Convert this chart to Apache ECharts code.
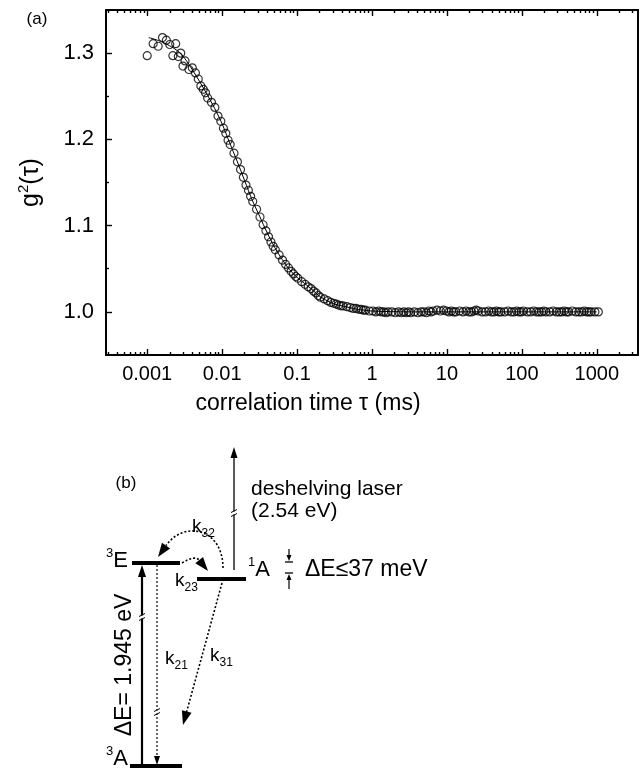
<!DOCTYPE html>
<html>
<head>
<meta charset="utf-8">
<script src="https://cdn.jsdelivr.net/npm/echarts@6/dist/echarts.min.js"></script>
<style>
  html, body { margin: 0; padding: 0; background: #fff; }
  #chart { width: 642px; height: 770px; }
</style>
</head>
<body>
<div id="chart"></div>
<script>
// ---- (a) intensity autocorrelation g2(tau) ----
const tauMs = [
  0.0010, 0.0012, 0.0014, 0.0016, 0.0018, 0.0020, 0.0022, 0.0024, 0.0026, 0.0028, 0.0030, 0.0032,
  0.0036, 0.0040, 0.0044, 0.0048, 0.0052, 0.0056, 0.0060, 0.0064,
  0.0072, 0.0080, 0.0088, 0.0096, 0.0104, 0.0112, 0.0120, 0.0128,
  0.0144, 0.0160, 0.0176, 0.0192, 0.0208, 0.0224, 0.0240, 0.0256,
  0.0288, 0.0320, 0.0352, 0.0384, 0.0416, 0.0448, 0.0480, 0.0512,
  0.0576, 0.0640, 0.0704, 0.0768, 0.0832, 0.0896, 0.0960, 0.1024,
  0.1152, 0.1280, 0.1408, 0.1536, 0.1664, 0.1792, 0.1920, 0.2048,
  0.2304, 0.2560, 0.2816, 0.3072, 0.3328, 0.3584, 0.3840, 0.4096,
  0.4608, 0.5120, 0.5632, 0.6144, 0.6656, 0.7168, 0.7680, 0.8192,
  0.9216, 1.0240, 1.1264, 1.2288, 1.3312, 1.4336, 1.5360, 1.6384,
  1.8432, 2.0480, 2.2528, 2.4576, 2.6624, 2.8672, 3.0720, 3.2768,
  3.6864, 4.0960, 4.5056, 4.9152, 5.3248, 5.7344, 6.1440, 6.5536,
  7.3728, 8.1920, 9.0112, 9.8304, 10.6496, 11.4688, 12.288, 13.1072,
  14.7456, 16.384, 18.0224, 19.6608, 21.2992, 22.9376, 24.576, 26.2144,
  29.49, 32.77, 36.04, 39.32, 42.60, 45.88, 49.15, 52.43,
  58.98, 65.54, 72.09, 78.64, 85.20, 91.75, 98.30, 104.86,
  117.96, 131.07, 144.18, 157.29, 170.39, 183.50, 196.61, 209.72,
  235.93, 262.14, 288.36, 314.57, 340.79, 367.00, 393.22, 419.43,
  471.86, 524.29, 576.72, 629.15, 681.57, 734.00, 786.43, 838.86,
  943.72, 1048.58
];
const g2 = [
  1.297, 1.311, 1.308, 1.318, 1.315, 1.310, 1.297, 1.311, 1.296, 1.300, 1.285, 1.291,
  1.281, 1.283, 1.277, 1.270, 1.262, 1.258, 1.254, 1.248,
  1.243, 1.237, 1.227, 1.221, 1.213, 1.207, 1.199, 1.194,
  1.184, 1.174, 1.165, 1.156, 1.147, 1.141, 1.134, 1.128,
  1.119, 1.110, 1.101, 1.094, 1.087, 1.081, 1.076, 1.072,
  1.066, 1.060, 1.055, 1.051, 1.047, 1.044, 1.041, 1.039,
  1.035, 1.032, 1.029, 1.027, 1.024, 1.022, 1.019, 1.017,
  1.015, 1.013, 1.011, 1.010, 1.009, 1.008, 1.007, 1.007,
  1.006, 1.005, 1.004, 1.004, 1.003, 1.003, 1.002, 1.002,
  1.001, 1.001, 1.000, 1.001, 1.000, 1.000, 0.999, 1.000,
  1.000, 0.999, 1.000, 0.999, 1.000, 0.999, 1.000, 0.999,
  1.000, 0.999, 1.000, 1.000, 0.999, 1.001, 1.000, 1.001,
  1.002, 1.001, 1.002, 1.001, 1.000, 1.001, 1.000, 1.000,
  1.001, 1.000, 1.001, 1.000, 1.000, 1.001, 1.002, 1.001,
  1.000, 1.000, 1.001, 1.000, 1.000, 1.001, 1.000, 1.000,
  1.000, 1.001, 1.000, 1.000, 1.001, 1.000, 1.000, 1.001,
  1.000, 1.000, 1.001, 1.000, 1.000, 1.000, 1.001, 1.000,
  1.000, 1.001, 1.000, 1.000, 1.000, 1.001, 1.000, 1.000,
  1.001, 1.000, 1.000, 1.000, 1.001, 1.000, 1.000, 1.000,
  1.000, 1.000
];
// fitted decay curve
const fitTauMs = [0.00105, 0.00158, 0.00251, 0.00316, 0.00398, 0.00501, 0.00631, 0.00794, 0.0100,
  0.0126, 0.0158, 0.0200, 0.0251, 0.0316, 0.0398, 0.0501, 0.0631, 0.0794, 0.100,
  0.126, 0.158, 0.200, 0.251, 0.316, 0.398, 0.501, 0.631, 0.794, 1.0, 3.16, 10, 100, 1000];
const fitG2 = [1.318, 1.313, 1.303, 1.294, 1.281, 1.267, 1.252, 1.236, 1.218,
  1.196, 1.175, 1.152, 1.130, 1.111, 1.092, 1.075, 1.061, 1.049, 1.040,
  1.033, 1.026, 1.018, 1.013, 1.009, 1.007, 1.005, 1.003, 1.002, 1.001, 1.000, 1.000, 1.000, 1.000];

const xMajorExp = [-3, -2, -1, 0, 1, 2, 3];
const xTickLabels = ['0.001', '0.01', '0.1', '1', '10', '100', '1000'];
const yMajorTicks = [1.0, 1.1, 1.2, 1.3];
const yMinorTicks = [1.05, 1.15, 1.25];
const xTitle = 'correlation time \u03c4 (ms)';
const yTitle = 'g{sup|2}(\u03c4)';

// ---- (b) level scheme, in diagram units ----
const levels = [
  { name: '3E', x0: 32, x1: 80, y: 207 },
  { name: '1A', x0: 97, x1: 146, y: 191 },
  { name: '3A', x0: 30, x1: 82, y: 4 }
];
const gapBars = [
  { x0: 185, x1: 193, y: 208 },
  { x0: 185, x1: 193, y: 197 }
];
const arrows = [
  { kind: 'pump',  path: [[42, 5], [42, 205]] },
  { kind: 'laser', path: [[134, 200], [134, 323]] },
  { kind: 'thin',  path: [[57, 205], [57, 5]] },
  { kind: 'decay', path: [[122, 187], [83, 45]] },
  { kind: 'decay', path: [[123, 202], [123, 242], [84, 250], [58, 213]] },
  { kind: 'decay', path: [[82, 207], [95, 215], [108, 199]] },
  { kind: 'tiny',  path: [[189, 221], [189, 209]] },
  { kind: 'tiny',  path: [[189, 181], [189, 196]] }
];
const breaks = [[134, 257], [42, 153], [57, 58]];
const labels = [
  { kind: 'level', text: '{sup|3}E', x: 28, y: 209, align: 'right' },
  { kind: 'level', text: '{sup|1}A', x: 148, y: 200, align: 'left' },
  { kind: 'level', text: '{sup|3}A', x: 28, y: 11, align: 'right' },
  { kind: 'rate', text: 'k{sub|32}', x: 92, y: 243, align: 'left' },
  { kind: 'rate', text: 'k{sub|23}', x: 75, y: 189, align: 'left' },
  { kind: 'rate', text: 'k{sub|21}', x: 65, y: 111, align: 'left' },
  { kind: 'rate', text: 'k{sub|31}', x: 110, y: 114, align: 'left' },
  { kind: 'note', text: 'deshelving laser', x: 151, y: 281, align: 'left' },
  { kind: 'note', text: '(2.54 eV)', x: 151, y: 259, align: 'left' },
  { kind: 'big', text: '\u0394E\u226437 meV', x: 205, y: 200, align: 'left' },
  { kind: 'big', text: '\u0394E= 1.945 eV', x: 25, y: 105, align: 'center', rotate: 90 },
  { kind: 'panel', text: '(b)', x: 26, y: 287, align: 'center' }
];

// ---- styles ----
const FONT = '"Liberation Sans", Arial, Helvetica, sans-serif';
const arrowStyles = {
  pump:  { width: 2.2, dash: null,   headLen: 12, headW: 8 },
  laser: { width: 1.3, dash: null,   headLen: 11, headW: 7 },
  thin:  { width: 1.2, dash: [2, 2], headLen: 9,  headW: 6 },
  decay: { width: 1.6, dash: [2, 2], headLen: 14, headW: 10 },
  tiny:  { width: 1.2, dash: null,   headLen: 6,  headW: 5 }
};
const labelStyles = {
  level: { size: 22, sup: 13 },
  rate:  { size: 19, sub: 12 },
  note:  { size: 21 },
  big:   { size: 23 },
  panel: { size: 17 }
};

const xMinor = [];
for (let d = -4; d <= 3; d++) {
  for (let m = 2; m <= 9; m++) {
    const v = d + Math.log10(m);
    if (v > -3.55 && v < 3.55) xMinor.push(v);
  }
}

const frameLine = { show: true, onZero: false, lineStyle: { color: '#000', width: 2 } };
const hiddenLine = { show: false, onZero: false };
const tickLine = { color: '#000', width: 1.4 };
const xCommon = { type: 'value', gridIndex: 0, min: -3.55, max: 3.55, splitLine: { show: false },
  axisLine: hiddenLine, axisTick: { show: false }, axisLabel: { show: false } };
const yCommon = { type: 'value', gridIndex: 0, min: 0.95, max: 1.35, splitLine: { show: false },
  axisLine: hiddenLine, axisTick: { show: false }, axisLabel: { show: false } };

function arrowRender(params, api) {
  const a = arrows[params.dataIndex];
  const s = arrowStyles[a.kind];
  const p = a.path.map(q => api.coord(q));
  const n = p.length;
  const tip = p[n - 1], prev = p[n - 2];
  const dx = tip[0] - prev[0], dy = tip[1] - prev[1];
  const L = Math.hypot(dx, dy) || 1;
  const ux = dx / L, uy = dy / L;
  const bx = tip[0] - ux * s.headLen, by = tip[1] - uy * s.headLen;
  const px = -uy * s.headW / 2, py = ux * s.headW / 2;
  const stroke = { stroke: '#000', lineWidth: s.width, fill: null, lineDash: s.dash };
  const children = [];
  if (n === 2) {
    children.push({ type: 'line', shape: { x1: p[0][0], y1: p[0][1], x2: bx + ux, y2: by + uy }, style: stroke });
  } else if (n === 3) {
    children.push({ type: 'bezierCurve', shape: { x1: p[0][0], y1: p[0][1], cpx1: p[1][0], cpy1: p[1][1], x2: bx, y2: by }, style: stroke });
  } else {
    children.push({ type: 'bezierCurve', shape: { x1: p[0][0], y1: p[0][1], cpx1: p[1][0], cpy1: p[1][1], cpx2: p[2][0], cpy2: p[2][1], x2: bx, y2: by }, style: stroke });
  }
  children.push({ type: 'polygon', shape: { points: [tip, [bx + px, by + py], [bx - px, by - py]] }, style: { fill: '#000' } });
  return { type: 'group', children };
}

function levelRender(params, api) {
  const l = levels[params.dataIndex];
  const a = api.coord([l.x0, l.y]), b = api.coord([l.x1, l.y]);
  return { type: 'rect', shape: { x: a[0], y: a[1] - 2, width: b[0] - a[0], height: 4 }, style: { fill: '#000' } };
}

function gapRender(params, api) {
  const l = gapBars[params.dataIndex];
  const a = api.coord([l.x0, l.y]), b = api.coord([l.x1, l.y]);
  return { type: 'line', shape: { x1: a[0], y1: a[1], x2: b[0], y2: b[1] }, style: { stroke: '#000', lineWidth: 1.3 } };
}

function breakRender(params, api) {
  const c = api.coord(breaks[params.dataIndex]);
  const st = { stroke: '#000', lineWidth: 1 };
  return { type: 'group', children: [
    { type: 'rect', shape: { x: c[0] - 3, y: c[1] - 1.5, width: 6, height: 3 }, style: { fill: '#fff' } },
    { type: 'line', shape: { x1: c[0] - 3, y1: c[1] - 0.5, x2: c[0] + 3, y2: c[1] - 3.5 }, style: st },
    { type: 'line', shape: { x1: c[0] - 3, y1: c[1] + 3.5, x2: c[0] + 3, y2: c[1] + 0.5 }, style: st }
  ] };
}

function labelRender(params, api) {
  const t = labels[params.dataIndex];
  const s = labelStyles[t.kind];
  const c = api.coord([t.x, t.y]);
  const base = s.size + 6;
  return {
    type: 'text', x: c[0], y: c[1], rotation: t.rotate ? t.rotate * Math.PI / 180 : 0,
    style: {
      text: t.text, x: 0, y: 0, fill: '#000',
      fontSize: s.size, fontFamily: FONT, lineHeight: base,
      align: t.align, verticalAlign: 'middle', textAlign: t.align, textVerticalAlign: 'middle',
      rich: {
        sup: { fontSize: s.sup || 11, fontFamily: FONT, fill: '#000', verticalAlign: 'top', lineHeight: 14 },
        sub: { fontSize: s.sub || 11, fontFamily: FONT, fill: '#000', verticalAlign: 'bottom', lineHeight: 10 }
      }
    }
  };
}

const chart = echarts.init(document.getElementById('chart'));
chart.setOption({
  animation: false,
  backgroundColor: '#fff',
  textStyle: { fontFamily: FONT },
  grid: [
    { left: 106, right: 4, top: 10, bottom: 415 },
    { left: 100, width: 250, top: 440, height: 330 }
  ],
  xAxis: [
    Object.assign({}, xCommon, { position: 'bottom', axisLine: frameLine,
      axisTick: { show: true, inside: true, length: 6, customValues: xMajorExp, lineStyle: tickLine },
      axisLabel: { show: true, customValues: xMajorExp, margin: 9, color: '#000', fontSize: 20, fontFamily: FONT,
        formatter: v => xTickLabels[xMajorExp.indexOf(Math.round(v))] } }),
    Object.assign({}, xCommon, { position: 'bottom',
      axisTick: { show: true, inside: true, length: 3, customValues: xMinor, lineStyle: tickLine } }),
    Object.assign({}, xCommon, { position: 'top', axisLine: frameLine,
      axisTick: { show: true, inside: true, length: 6, customValues: xMajorExp, lineStyle: tickLine } }),
    Object.assign({}, xCommon, { position: 'top',
      axisTick: { show: true, inside: true, length: 3, customValues: xMinor, lineStyle: tickLine } }),
    { type: 'value', gridIndex: 1, min: 0, max: 250, show: false }
  ],
  yAxis: [
    Object.assign({}, yCommon, { position: 'left', axisLine: frameLine,
      axisTick: { show: true, inside: true, length: 6, customValues: yMajorTicks, lineStyle: tickLine },
      axisLabel: { show: true, customValues: yMajorTicks, margin: 12, color: '#000', fontSize: 22, fontFamily: FONT,
        formatter: v => v.toFixed(1) },
      name: yTitle, nameLocation: 'middle', nameGap: 60, nameRotate: 90,
      nameTextStyle: { color: '#000', fontSize: 25, fontFamily: FONT, lineHeight: 30,
        rich: { sup: { fontSize: 15, fontFamily: FONT, color: '#000', verticalAlign: 'top', lineHeight: 15 } } } }),
    Object.assign({}, yCommon, { position: 'left',
      axisTick: { show: true, inside: true, length: 3, customValues: yMinorTicks, lineStyle: tickLine } }),
    Object.assign({}, yCommon, { position: 'right', axisLine: frameLine }),
    { type: 'value', gridIndex: 1, min: 0, max: 330, show: false }
  ],
  graphic: [
    { type: 'text', x: 37, y: 19, style: { text: '(a)', fontSize: 17, fontFamily: FONT, fill: '#000', align: 'center', verticalAlign: 'middle' } },
    { type: 'text', x: 308, y: 404, style: { text: xTitle, fontSize: 23, fontFamily: FONT, fill: '#000', align: 'center', verticalAlign: 'middle' } }
  ],
  series: [
    {
      type: 'line', xAxisIndex: 0, yAxisIndex: 0, silent: true,
      data: fitTauMs.map((t, i) => [Math.log10(t), fitG2[i]]),
      showSymbol: false, smooth: 0.3, lineStyle: { color: '#000', width: 1 }, z: 2
    },
    {
      type: 'scatter', xAxisIndex: 0, yAxisIndex: 0, silent: true,
      data: tauMs.map((t, i) => [Math.log10(t), g2[i]]),
      symbol: 'circle', symbolSize: 8,
      itemStyle: { color: 'rgba(0,0,0,0)', borderColor: '#000', borderWidth: 1.2 }, z: 3
    },
    { type: 'custom', xAxisIndex: 4, yAxisIndex: 3, silent: true, renderItem: levelRender,
      data: levels.map(l => [l.x0, l.y]) },
    { type: 'custom', xAxisIndex: 4, yAxisIndex: 3, silent: true, renderItem: gapRender,
      data: gapBars.map(l => [l.x0, l.y]) },
    { type: 'custom', xAxisIndex: 4, yAxisIndex: 3, silent: true, renderItem: arrowRender,
      data: arrows.map(a => a.path[0]) },
    { type: 'custom', xAxisIndex: 4, yAxisIndex: 3, silent: true, renderItem: breakRender, z: 5,
      data: breaks.map(b => b) },
    { type: 'custom', xAxisIndex: 4, yAxisIndex: 3, silent: true, renderItem: labelRender,
      data: labels.map(t => [t.x, t.y]) }
  ]
});
</script>
</body>
</html>
